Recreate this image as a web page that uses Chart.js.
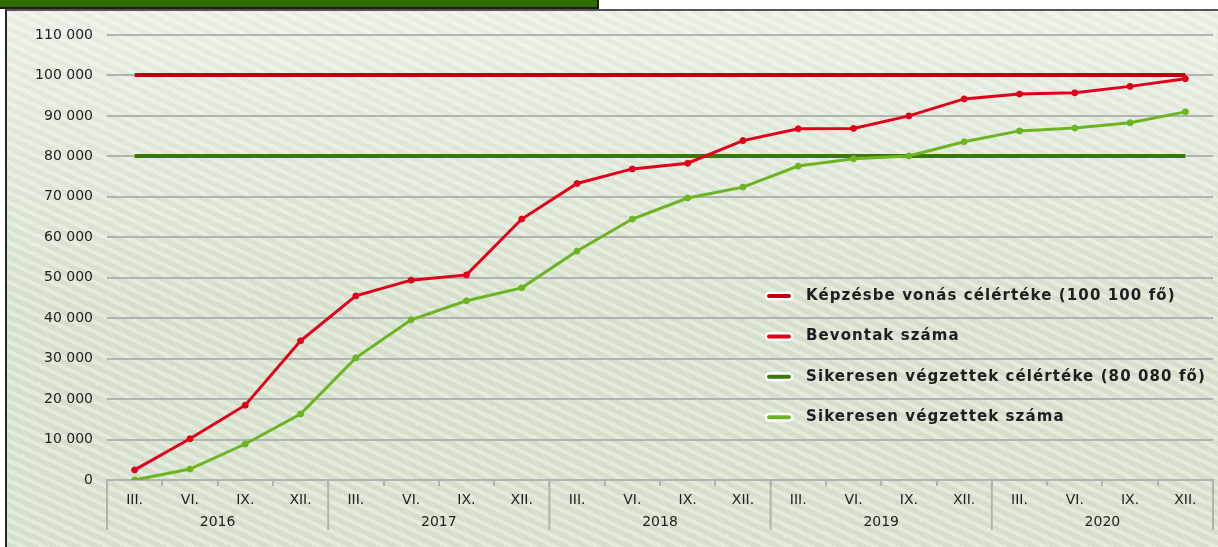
<!DOCTYPE html>
<html>
<head>
<meta charset="utf-8">
<script src="https://cdn.jsdelivr.net/npm/chart.js@4.4.1/dist/chart.umd.min.js"></script>
<style>
  html, body { margin: 0; padding: 0; background: #fff; }
  body { width: 1218px; height: 547px; position: relative; overflow: hidden; }
  #fejlec {
    position: absolute; left: 0; top: 0; width: 597px; height: 7px;
    background: #2f6d02; border-right: 2px solid #1d1d1d; border-bottom: 2px solid #1d1d1d;
  }
  #panel {
    position: absolute; left: 5px; top: 9px; right: 0; bottom: 0;
    border-left: 2px solid #262626; border-top: 2px solid #555;
    background:
      linear-gradient(to bottom, rgba(255,255,255,0.45), rgba(255,255,255,0) 55%),
      repeating-linear-gradient(25deg, #d5e0cc 0px, #d5e0cc 5px, #e4ebdd 5px, #e4ebdd 9px);
  }
  #wrap { position: absolute; left: 0; top: 0; width: 1218px; height: 547px; }
</style>
</head>
<body>
<div id="fejlec"></div>
<div id="panel"></div>
<div id="wrap"><canvas id="chartTeste"></canvas></div>
<script>
// negyedévek es évek
const honapok = ['III.','VI.','IX.','XII.','III.','VI.','IX.','XII.','III.','VI.','IX.','XII.',
                 'III.','VI.','IX.','XII.','III.','VI.','IX.','XII.']
const evek = ['2016','2017','2018','2019','2020']

const celBevonas = 100100
const celVegzett = 80080

const bevontak = [2500, 10200, 18500, 34400, 45500, 49400, 50700, 64500, 73300, 76900,
                  78300, 83900, 86800, 86900, 90000, 94200, 95400, 95700, 97300, 99200]
const vegzettek = [0, 2700, 8900, 16300, 30200, 39600, 44300, 47500, 56600, 64500,
                   69700, 72400, 77600, 79400, 80100, 83600, 86300, 87000, 88300, 91000]

const yTicks = [0, 10000, 20000, 30000, 40000, 50000, 60000, 70000, 80000, 90000, 100000, 110000]

const szam = v => String(v).replace(/\B(?=(\d{3})+(?!\d))/g, ' ')
const gridSzin = '#b2b2b2'
const betu = 'DejaVu Sans'

// evek kozotti fuggoleges vonalak
const evVonalak = {
  id: 'evVonalak',
  afterDraw(chart) {
    const x = chart.scales.x
    const ctx = chart.ctx
    const w = x.width / honapok.length
    ctx.save()
    ctx.strokeStyle = gridSzin
    ctx.lineWidth = 2
    for (let i = 0; i <= evek.length; i++) {
      const px = x.left + i * 4 * w
      ctx.beginPath()
      ctx.moveTo(px, x.top)
      ctx.lineTo(px, x.top + 50)
      ctx.stroke()
    }
    ctx.restore()
  }
}

// jelmagyarazat a diagramon belul
const jelmagyarazat = {
  id: 'jelmagyarazat',
  afterDatasetsDraw(chart) {
    const ctx = chart.ctx
    const y = chart.scales.y
    ctx.save()
    ctx.font = 'bold 15px ' + betu
    ctx.textBaseline = 'middle'
    ctx.letterSpacing = '1.1px'
    chart.data.datasets.forEach((ds, i) => {
      const cy = y.getPixelForValue(45000 - i * 10000) - 2
      ctx.lineCap = 'round'
      ctx.strokeStyle = '#ffffff'
      ctx.lineWidth = 9
      ctx.beginPath(); ctx.moveTo(769, cy); ctx.lineTo(789, cy); ctx.stroke()
      ctx.strokeStyle = ds.borderColor
      ctx.lineWidth = 4
      ctx.beginPath(); ctx.moveTo(769, cy); ctx.lineTo(789, cy); ctx.stroke()
      ctx.fillStyle = '#1e1e1e'
      ctx.fillText(ds.label, 806, cy)
    })
    ctx.restore()
  }
}

const ctx = document.getElementById('chartTeste')
const myChart = new Chart(ctx, {
  type: 'line',
  data: {
    labels: honapok,
    datasets: [
      {
        label: 'Képzésbe vonás célértéke (100 100 fő)',
        data: honapok.map(() => celBevonas),
        borderColor: '#c2000e',
        borderWidth: 4,
        pointRadius: 0,
        order: 2
      },
      {
        label: 'Bevontak száma',
        data: bevontak,
        borderColor: '#e1001a',
        backgroundColor: '#e1001a',
        borderWidth: 3,
        pointRadius: 3,
        pointBorderWidth: 1,
        order: 0
      },
      {
        label: 'Sikeresen végzettek célértéke (80 080 fő)',
        data: honapok.map(() => celVegzett),
        borderColor: '#3b780c',
        borderWidth: 4,
        pointRadius: 0,
        order: 2
      },
      {
        label: 'Sikeresen végzettek száma',
        data: vegzettek,
        borderColor: '#6db422',
        backgroundColor: '#6db422',
        borderWidth: 3,
        pointRadius: 3,
        pointBorderWidth: 1,
        order: 1
      }
    ]
  },
  options: {
    responsive: true,
    maintainAspectRatio: false,
    animation: false,
    layout: { padding: { top: 35, right: 5, left: 0, bottom: 0 } },
    plugins: {
      legend: { display: false },
      tooltip: { enabled: false }
    },
    scales: {
      x: {
        type: 'category',
        offset: true,
        grid: { drawOnChartArea: false, offset: true, color: gridSzin, lineWidth: 2, tickLength: 6 },
        border: { display: true, color: gridSzin, width: 2 },
        ticks: { color: '#1e1e1e', font: { family: betu, size: 14 }, padding: 6, maxRotation: 0, autoSkip: false },
        afterFit: s => { s.height = 30 }
      },
      x2: {
        type: 'category',
        position: 'bottom',
        labels: evek,
        offset: true,
        grid: { display: false, drawTicks: false },
        border: { display: false },
        ticks: { color: '#1e1e1e', font: { family: betu, size: 14 }, padding: 4, maxRotation: 0 },
        afterFit: s => { s.height = 37 }
      },
      y: {
        min: 0,
        max: 110000,
        afterBuildTicks: s => { s.ticks = yTicks.map(v => ({ value: v })) },
        grid: { color: gridSzin, lineWidth: 2, drawTicks: false },
        border: { display: false },
        ticks: { color: '#1e1e1e', font: { family: betu, size: 14 }, padding: 14, callback: v => szam(v) },
        afterFit: s => { s.width = 107 }
      }
    }
  },
  plugins: [evVonalak, jelmagyarazat]
})
</script>
</body>
</html>
